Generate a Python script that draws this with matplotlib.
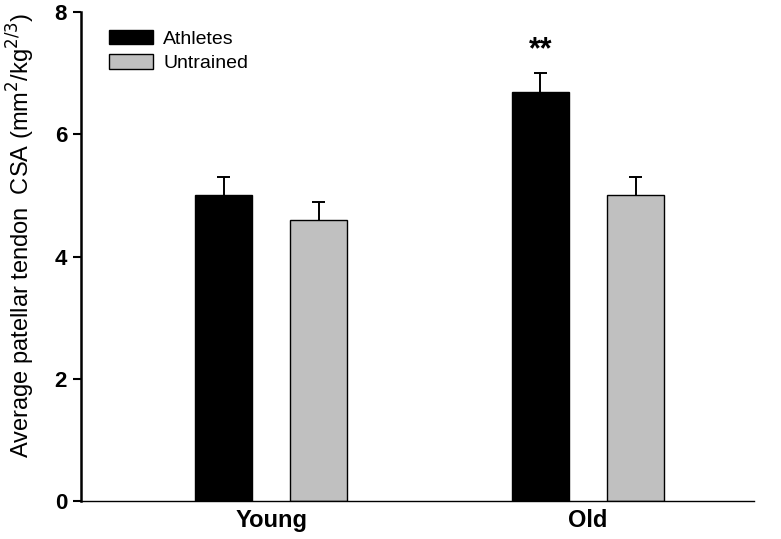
import matplotlib
matplotlib.use("Agg")
import matplotlib.pyplot as plt
import numpy as np

groups = ["Young", "Old"]
athletes = [5.0, 6.7]
athletes_err = [0.3, 0.3]
untrained = [4.6, 5.0]
untrained_err = [0.3, 0.3]
yticks = [0, 2, 4, 6, 8]

plt.rcParams['font.family'] = ['Liberation Sans', 'DejaVu Sans']
fig = plt.figure(figsize=(7.81, 5.39), dpi=100)
ax = fig.add_axes([0.1037, 0.0705, 0.8618, 0.907])

x = np.arange(len(groups))
w = 0.18
off = 0.15
cap = 0.021
ax.bar(x - off, athletes, w, color='black', edgecolor='black', linewidth=1, label='Athletes', zorder=2)
ax.bar(x + off, untrained, w, color='#c0c0c0', edgecolor='black', linewidth=1, label='Untrained', zorder=2)
for xs, vals, errs in [(x - off, athletes, athletes_err), (x + off, untrained, untrained_err)]:
    tops = np.array(vals) + np.array(errs)
    ax.vlines(xs, vals, tops, color='black', linewidth=1.4, zorder=1)
    ax.hlines(tops, xs - cap, xs + cap, color='black', linewidth=1.4, zorder=1)

ax.text(x[1] - off, 7.38, "**", ha='center', va='center', fontsize=22, fontweight='bold')

ax.set_xlim(-0.6, 1.524)
ax.set_ylim(0, 8)
ax.set_yticks(yticks)
ax.set_yticklabels([str(t) for t in yticks], fontsize=16, fontweight='bold')
ax.set_xticks(x)
ax.set_xticklabels(groups, fontsize=17, fontweight='bold')
ax.tick_params(axis='x', length=0, pad=6)
ax.tick_params(axis='y', direction='out', length=6, width=1.5, pad=4)
ax.spines['top'].set_visible(False)
ax.spines['right'].set_visible(False)
ax.spines['left'].set_linewidth(1.8)
ax.spines['bottom'].set_linewidth(1.0)
ax.set_ylabel("Average patellar tendon  CSA (mm$^2$/kg$^{2/3}$)", fontsize=17)
ax.yaxis.set_label_coords(-0.066, 0.544)

ax.legend(loc='upper left', bbox_to_anchor=(0.015, 1.0), frameon=False, fontsize=14,
          handlelength=2.3, handleheight=0.75, labelspacing=0.35, handletextpad=0.5)

fig.savefig("out.png", dpi=100)
